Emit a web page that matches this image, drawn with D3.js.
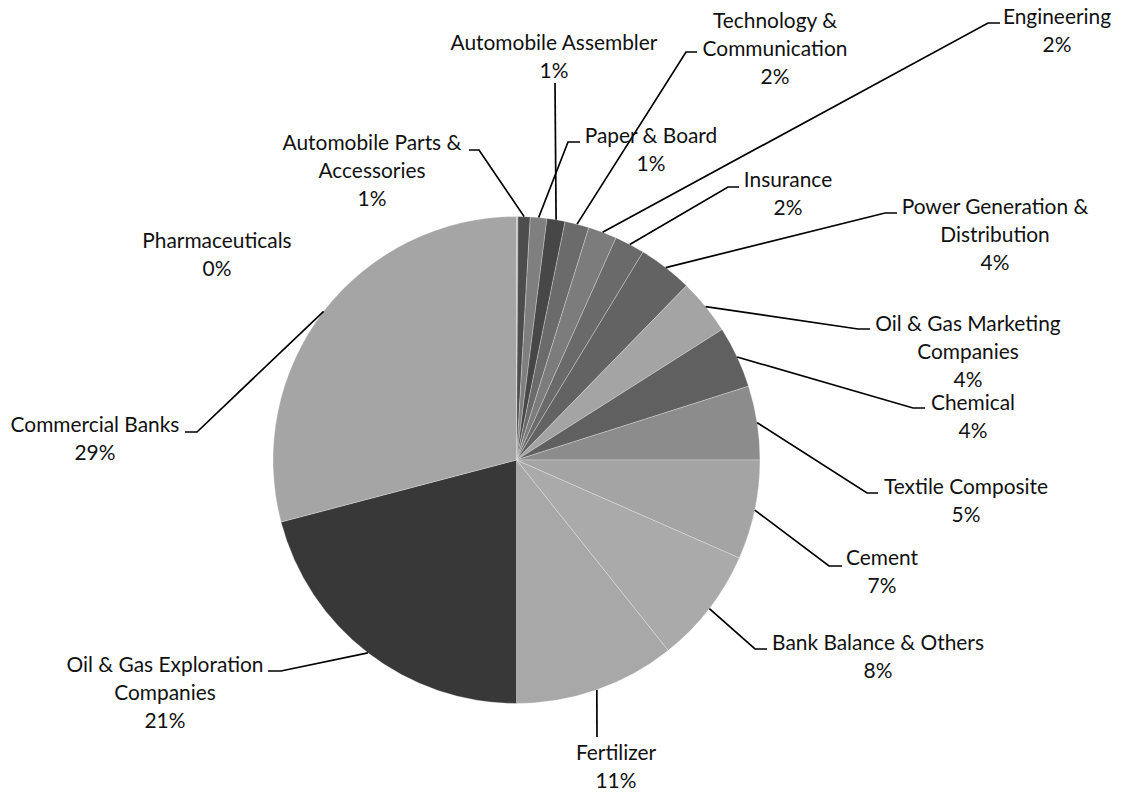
<!DOCTYPE html>
<html><head><meta charset="utf-8">
<script src="https://cdn.jsdelivr.net/npm/d3@7"></script>
<style>
body{margin:0;background:#fff;}
svg text{font-family:Lato,'Open Sans',sans-serif;fill:#111;}
</style>
</head><body>
<svg id="chart" width="1125" height="793"></svg>
<script>
// ---- data ----
const categories = [
  "Pharmaceuticals","Automobile Parts & Accessories","Paper & Board","Automobile Assembler",
  "Technology & Communication","Engineering","Insurance","Power Generation & Distribution",
  "Oil & Gas Marketing Companies","Chemical","Textile Composite","Cement",
  "Bank Balance & Others","Fertilizer","Oil & Gas Exploration Companies","Commercial Banks"
];
const values = [0.1,0.8,1.1,1.2,1.6,1.9,2.0,3.6,3.7,4.1,4.9,6.6,7.7,10.7,20.9,29.1];
const colors = ["#b2b2b2","#4d4d4d","#7f7f7f","#474747","#6b6b6b","#7c7c7c","#6a6a6a","#636363",
  "#a4a4a4","#606060","#8c8c8c","#a4a4a4","#aaaaaa","#a8a8a8","#383838","#a5a5a5"];

// ---- label layout (text lines, first-line centre, leader elbow & end) ----
const labelLines = [
  ["Pharmaceuticals"],["Automobile Parts &","Accessories"],["Paper & Board"],["Automobile Assembler"],
  ["Technology &","Communication"],["Engineering"],["Insurance"],["Power Generation &","Distribution"],
  ["Oil & Gas Marketing","Companies"],["Chemical"],["Textile Composite"],["Cement"],
  ["Bank Balance & Others"],["Fertilizer"],["Oil & Gas Exploration","Companies"],["Commercial Banks"]
];
const labelPos = [
  [217,241],[372,143],[651,136],[554,43],[775,21],[1057,17],[788,180],[995,207],
  [968,324],[973,403],[966,487],[882,558],[878,643],[616,753],[165,665],[95,425]
];
const leaderPts = [
  null,[[479,150],[469,150]],[[568,142],[580,142]],[[555,83]],
  [[686,52],[697,52]],[[988,23],[1000,23]],[[728,187],[739,187]],[[885,213],[897,213]],
  [[858,329],[870,329]],[[913,408],[925,408]],[[867,493],[878,493]],[[829,566],[842,566]],
  [[755,649],[767,649]],[[597,737]],[[281,671],[268,671]],[[197,432],[185,432]]
];

const svg = d3.select("#chart");
const cx = 516.5, cy = 460, R = 243.5, lineH = 28;
const total = d3.sum(values);
const data = categories.map((c,i)=>({name:c, value:values[i], color:colors[i], i}));

const pie = d3.pie().value(d=>d.value).sort(null);
const arcs = pie(data);
const arc = d3.arc().innerRadius(0).outerRadius(R);

const g = svg.append("g").attr("transform",`translate(${cx},${cy})`);
g.selectAll("path").data(arcs).join("path")
  .attr("d",arc).attr("fill",d=>d.data.color)
  .attr("stroke","#ffffff").attr("stroke-opacity",0.45).attr("stroke-width",0.6);

// font size fitted so "Commercial Banks" spans ~169px
const probe = svg.append("text").attr("font-size",20).text("Commercial Banks");
const fs = 20*169/probe.node().getComputedTextLength();
probe.remove();

// leader lines
const line = d3.line();
arcs.forEach((a,i)=>{
  const pts = leaderPts[i];
  if(!pts) return;
  const mid = (a.startAngle+a.endAngle)/2;
  const p0 = [cx + R*Math.sin(mid), cy - R*Math.cos(mid)];
  svg.append("path").attr("d",line([p0,...pts]))
    .attr("fill","none").attr("stroke","#000").attr("stroke-width",1.7);
});

// labels
arcs.forEach((a,i)=>{
  const [x,y] = labelPos[i];
  const lines = labelLines[i].concat([Math.round(a.data.value/total*100)+"%"]);
  const t = svg.append("text").attr("text-anchor","middle").attr("font-size",fs);
  lines.forEach((s,k)=>{
    t.append("tspan").attr("x",x).attr("y",y+k*lineH).attr("dy","0.35em").text(s);
  });
});
</script>
</body></html>
